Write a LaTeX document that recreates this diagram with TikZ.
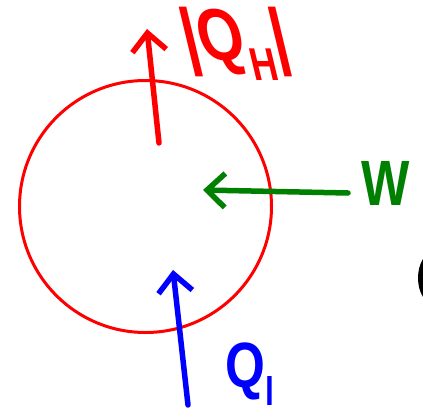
\documentclass[tikz,border=0pt]{standalone}
\usepackage{fontspec}
\setmainfont{Liberation Sans}
\usetikzlibrary{arrows.meta}
\definecolor{penred}{RGB}{255,0,0}
\definecolor{pengreen}{RGB}{0,128,0}
\definecolor{penblue}{RGB}{0,0,255}
\newcommand{\penlow}[1]{\raisebox{-0.28em}{\fontsize{40}{40}\selectfont #1}}
\tikzset{
  penarrow/.style={line width=5.5pt,line cap=round,-{Straight Barb[length=18pt,width=34pt]}},
  penlabel/.style={inner sep=0pt,font=\fontsize{64}{66}\selectfont\bfseries,xscale=0.8}
}
\begin{document}
\begin{tikzpicture}[x=1pt,y=-1pt]
  \useasboundingbox (0,0) rectangle (423,418);
  \clip (0,0) rectangle (423,418);
  % the engine
  \coordinate (C) at (145.5,206.5);
  \draw[penred,line width=3pt] (C) circle[radius=126pt];
  % heat out at the top
  \coordinate (QHtail) at (159,143);
  \coordinate (QHtip) at (147,29);
  \draw[penred,penarrow] (QHtail) -- (QHtip);
  \node[penlabel,penred,xslant=-0.3,xscale=1.15,yscale=1.15] (QH) at (236,44) {|Q\penlow{H}|};
  % work in
  \coordinate (Wtail) at (348,193);
  \coordinate (Wtip) at (203,190);
  \draw[pengreen,penarrow] (Wtail) -- (Wtip);
  \node[penlabel,pengreen] (W) at (386,183) {W};
  % heat in from below
  \coordinate (QLtail) at (188,405);
  \coordinate (QLtip) at (173,270);
  \draw[penblue,penarrow] (QLtail) -- (QLtip);
  \node[penlabel,penblue] (QL) at (250,374) {Q\penlow{l}};
  % cut-off mark at the right edge
  \fill[black] (434,278) ellipse[x radius=16pt,y radius=26pt];
\end{tikzpicture}
\end{document}
